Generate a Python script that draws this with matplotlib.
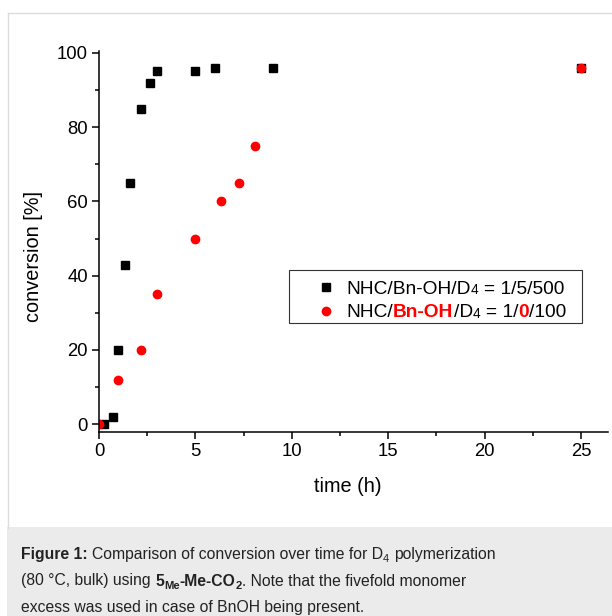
import matplotlib
matplotlib.use('Agg')
import matplotlib.pyplot as plt
from matplotlib.patches import Rectangle
from matplotlib.lines import Line2D
from matplotlib.ticker import MultipleLocator
from matplotlib.transforms import IdentityTransform

plt.rcParams['font.family'] = ['Liberation Sans', 'DejaVu Sans']

# NHC/Bn-OH/D4 = 1/5/500
time_bnoh = [0.25, 0.75, 1, 1.33, 1.6, 2.17, 2.67, 3, 5, 6, 9, 25]
conv_bnoh = [0, 2, 20, 43, 65, 85, 92, 95, 95, 96, 96, 96]
# NHC/D4 = 1/100, no alcohol
time_nobnoh = [0, 1, 2.17, 3, 5, 6.33, 7.25, 8.1, 25]
conv_nobnoh = [0, 12, 20, 35, 50, 60, 65, 75, 96]

x_ticks = [0, 5, 10, 15, 20, 25]
y_ticks = [0, 20, 40, 60, 80, 100]

# pieces: (text, colour, weight, relative size, baseline shift in em)
K, R = 'black', 'red'
legend_rows = [
    [('NHC/Bn-OH/D', K, 'normal', 1, 0), ('4', K, 'normal', 0.72, -0.05),
     (' = 1/5/500', K, 'normal', 1, 0)],
    [('NHC/', K, 'normal', 1, 0), ('Bn-OH', R, 'bold', 1, 0),
     ('/D', K, 'normal', 1, 0), ('4', K, 'normal', 0.72, -0.05),
     (' = 1/', K, 'normal', 1, 0), ('0', R, 'bold', 1, 0),
     ('/100', K, 'normal', 1, 0)],
]
C = '#222222'
caption = [
    [('Figure 1:', C, 'bold', 1, 0),
     (' Comparison of conversion over time for D', C, 'normal', 1, 0),
     ('4', C, 'normal', 0.72, -0.18), (' polymerization', C, 'normal', 1, 0)],
    [('(80 °C, bulk) using ', C, 'normal', 1, 0), ('5', C, 'bold', 1, 0),
     ('Me', C, 'bold', 0.72, -0.22), ('-Me-CO', C, 'bold', 1, 0),
     ('2', C, 'bold', 0.72, -0.22), ('. Note that the fivefold monomer', C, 'normal', 1, 0)],
    [('excess was used in case of BnOH being present.', C, 'normal', 1, 0)],
]

W, H = 612, 616
fig = plt.figure(figsize=(W / 100, H / 100), dpi=100)
px = IdentityTransform()

# page decoration: thin frame and grey caption box
fig.add_artist(Line2D([8 / W, 8 / W], [88 / H, 603 / H], color='#dcdcdc', lw=1))
fig.add_artist(Line2D([8 / W, 1], [603 / H, 603 / H], color='#dcdcdc', lw=1))
fig.add_artist(Rectangle((7 / W, 0), 1, 89 / H, color='#ebebeb', lw=0))

ax = fig.add_axes([99 / W, 184.3 / H, 509 / W, 380.7 / H])
ax.plot(time_bnoh, conv_bnoh, 's', color='black', ms=5.5)
ax.plot(time_nobnoh, conv_nobnoh, 'o', color='red', ms=6, mec='red')

ax.set_xlim(0, 26.4)
ax.set_ylim(-2, 100.5)
ax.set_xticks(x_ticks)
ax.set_yticks(y_ticks)
ax.xaxis.set_minor_locator(MultipleLocator(2.5))
ax.yaxis.set_minor_locator(MultipleLocator(10))
for s in ['top', 'right']:
    ax.spines[s].set_visible(False)
for s in ['left', 'bottom']:
    ax.spines[s].set_linewidth(1.1)
ax.tick_params(which='major', direction='out', length=5, width=1.1, labelsize=13.3, pad=3)
ax.tick_params(which='minor', direction='out', length=3, width=1.1)
ax.set_xlabel('time (h)', fontsize=14.3)
ax.set_ylabel('conversion [%]', fontsize=14.3)
ax.xaxis.set_label_coords(0.489, -0.118)
ax.yaxis.set_label_coords(-0.11, 0.4615)

fig.canvas.draw()
rend = fig.canvas.get_renderer()


def advance(s, size, weight):
    # advance width in px, measured between two bars so spaces and bearings count
    a = fig.text(0, 0, '|' + s + '|', size=size, weight=weight, transform=px)
    b = fig.text(0, 0, '||', size=size, weight=weight, transform=px)
    w = a.get_window_extent(rend).width - b.get_window_extent(rend).width
    a.remove()
    b.remove()
    return w


def rich_text(x, y, parts, size):
    # pieces on one baseline, pixel coords
    for s, color, weight, rel, dy in parts:
        sz = size * rel
        lead = len(s) - len(s.lstrip(' '))
        x0 = x + advance(s[:lead], sz, weight) if lead else x
        fig.text(x0, y + dy * size * 100 / 72, s.strip(' '), transform=px, size=sz,
                 weight=weight, color=color, ha='left', va='baseline')
        x += advance(s, sz, weight)


# legend, drawn by hand so the second entry can be coloured
fig.add_artist(Rectangle((289, H - 323), 293, 53, transform=px, fill=False,
                         ec='#333333', lw=0.8))
fig.add_artist(Line2D([326], [H - 286.5], transform=px, marker='s', ls='none',
                      color='black', ms=5.5))
fig.add_artist(Line2D([326], [H - 310.5], transform=px, marker='o', ls='none',
                      color='red', ms=6))
for i, row in enumerate(legend_rows):
    rich_text(346.5, H - 293.5 - i * 23.5, row, 13.8)

# caption
for i, line in enumerate(caption):
    rich_text(21, H - 559 - i * 26.5, line, 11.3)

fig.savefig('out.png', dpi=100)
